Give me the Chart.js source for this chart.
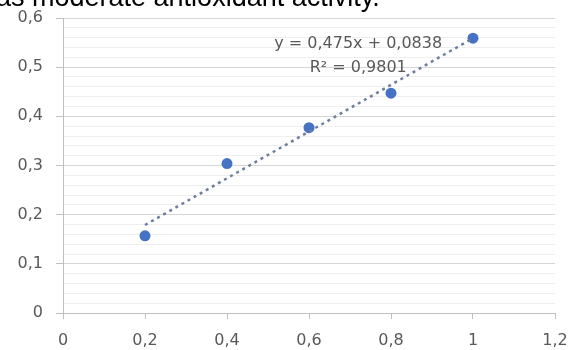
<!DOCTYPE html>
<html>
<head>
<meta charset="utf-8">
<script src="https://cdn.jsdelivr.net/npm/chart.js@4.4.1/dist/chart.umd.min.js"></script>
<style>
  html, body { margin: 0; padding: 0; background: #fff; overflow: hidden; }
  #wrap { position: relative; width: 569px; height: 350px; }
  #chart { position: absolute; left: 0; top: 0; }
  #caption {
    position: absolute; left: -4px; top: -16px; white-space: nowrap;
    font-family: "Liberation Sans", Arial, sans-serif; font-size: 27px; line-height: 27px;
    color: #000; z-index: 2;
  }
</style>
</head>
<body>
<div id="wrap">
  <div id="caption">as moderate antioxidant activity.</div>
  <canvas id="chart" width="569" height="350"></canvas>
</div>
<script>
// data
const xValues = [0.2, 0.4, 0.6, 0.8, 1.0];
const yValues = [0.157, 0.304, 0.377, 0.447, 0.559];

// dotted linear trendline, ends as drawn
const trendX = [0.2, 1.0];
const trendY = [0.179, 0.559];

const xTickLabels = ['0', '0,2', '0,4', '0,6', '0,8', '1', '1,2'];
const yTickLabels = ['0', '0,1', '0,2', '0,3', '0,4', '0,5', '0,6'];

const equationLines = ['y = 0,475x + 0,0838', 'R² = 0,9801'];

const TEXT = '#595959';
const FONT = { family: '"DejaVu Sans", sans-serif', size: 16 };

// minor steps on y: 5 per major
const isMajor = i => i % 5 === 0;

const equationPlugin = {
  id: 'equation',
  afterDatasetsDraw(chart) {
    const { ctx, scales } = chart;
    const cx = scales.x.getPixelForValue(0.72);
    const y0 = scales.y.getPixelForValue(0.548);
    ctx.save();
    ctx.fillStyle = TEXT;
    ctx.font = FONT.size + 'px ' + FONT.family;
    ctx.textAlign = 'center';
    ctx.textBaseline = 'middle';
    equationLines.forEach((t, i) => ctx.fillText(t, cx, y0 + i * 24));
    ctx.restore();
  }
};

new Chart(document.getElementById('chart').getContext('2d'), {
  type: 'scatter',
  data: {
    datasets: [
      {
        label: 'Trend',
        data: trendX.map((x, i) => ({ x, y: trendY[i] })),
        showLine: true,
        borderColor: '#6e7f9e',
        borderWidth: 2.5,
        borderDash: [3, 4],
        pointRadius: 0,
        fill: false
      },
      {
        label: 'Series',
        data: xValues.map((x, i) => ({ x, y: yValues[i] })),
        backgroundColor: '#4472C4',
        borderWidth: 0,
        pointRadius: 5.5
      }
    ]
  },
  options: {
    responsive: false,
    animation: false,
    layout: { padding: { top: 18, right: 14, left: 0, bottom: 0 } },
    plugins: { legend: { display: false }, tooltip: { enabled: false } },
    scales: {
      x: {
        type: 'linear',
        min: 0, max: 1.2,
        afterFit: s => { s.height = 37; s.paddingLeft = 0; s.paddingRight = 0; },
        ticks: {
          stepSize: 0.2,
          color: TEXT, font: FONT, padding: 12,
          callback: (v, i) => xTickLabels[i]
        },
        grid: { drawOnChartArea: false, tickLength: 6, tickColor: '#bfbfbf' },
        border: { color: '#bfbfbf' }
      },
      y: {
        min: 0, max: 0.6,
        afterFit: s => { s.width = 63; s.paddingTop = 0; s.paddingBottom = 0; },
        ticks: {
          stepSize: 0.02, autoSkip: false,
          color: TEXT, font: FONT, padding: 13,
          callback: (v, i) => isMajor(i) ? yTickLabels[i / 5] : ''
        },
        grid: {
          color: c => isMajor(c.index) ? '#d6d6d6' : '#eeeeee',
          tickColor: c => isMajor(c.index) ? '#bfbfbf' : 'rgba(0,0,0,0)',
          tickLength: 7
        },
        border: { color: '#bfbfbf' }
      }
    }
  },
  plugins: [equationPlugin]
});
</script>
</body>
</html>
